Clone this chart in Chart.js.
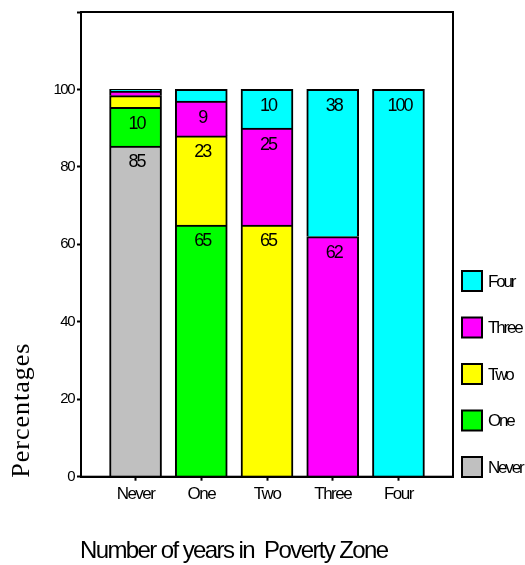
<!DOCTYPE html>
<html>
<head>
<meta charset="utf-8">
<script src="https://cdn.jsdelivr.net/npm/chart.js@4/dist/chart.umd.min.js"></script>
<style>
  html, body { margin: 0; padding: 0; background: #fff; }
</style>
</head>
<body>
<canvas id="chart" width="525" height="565"></canvas>
<script>
// --- data ---
const categories = ['Never', 'One', 'Two', 'Three', 'Four'];
const seriesNames = ['Never', 'One', 'Two', 'Three', 'Four'];
const seriesColors = ['#C0C0C0', '#00FF00', '#FFFF00', '#FF00FF', '#00FFFF'];
// percent of each bar, one array per colour (stacked bottom to top)
const pctNever = [85.4, 0, 0, 0, 0];
const pctOne = [10, 65, 0, 0, 0];
const pctTwo = [3, 23, 65, 0, 0];
const pctThree = [1.2, 9, 25, 62, 0];
const pctFour = [0.4, 3, 10, 38, 100];
const yTicks = [0, 20, 40, 60, 80, 100, 120];
const xTitle = 'Number of years in  Poverty Zone';
const yTitle = 'Percentages';

const SANS = "'Liberation Sans', Arial, sans-serif";
const SERIF = "'Liberation Serif', 'Times New Roman', serif";

const seriesValues = [pctNever, pctOne, pctTwo, pctThree, pctFour];

const datasets = seriesNames.map((name, s) => ({
    label: name,
    data: categories.map((c, i) => ({ x: i + 1, y: seriesValues[s][i] || null })),
    backgroundColor: seriesColors[s],
    borderColor: '#000',
    borderWidth: 2,
    borderSkipped: 'bottom',
    barThickness: 52
}));

// condensed look of the original text
const spacingPlugin = {
    id: 'spacing',
    beforeDraw(chart) {
        chart.ctx.letterSpacing = '-1.5px';
    }
};

// value labels inside segments
const valueLabels = {
    id: 'valueLabels',
    afterDatasetsDraw(chart) {
        const ctx = chart.ctx;
        ctx.save();
        ctx.letterSpacing = '-2px';
        ctx.font = '18px ' + SANS;
        ctx.fillStyle = '#000';
        ctx.textAlign = 'center';
        ctx.textBaseline = 'middle';
        chart.data.datasets.forEach((ds, i) => {
            const meta = chart.getDatasetMeta(i);
            meta.data.forEach((bar, j) => {
                const v = ds.data[j].y;
                if (v == null || v < 5) return;
                ctx.fillText(String(Math.round(v)), bar.x + 1, bar.y + 16.5);
            });
        });
        ctx.restore();
    }
};

// box round the plot, legend and axis titles
const frameAndTitles = {
    id: 'frameAndTitles',
    afterDraw(chart) {
        const ctx = chart.ctx;
        const a = chart.chartArea;
        ctx.save();
        ctx.strokeStyle = '#000';
        ctx.lineWidth = 2;
        ctx.strokeRect(a.left, a.top, a.right - a.left, a.bottom - a.top);

        // legend, Four on top
        ctx.font = '17px ' + SANS;
        ctx.letterSpacing = '-2.2px';
        ctx.textAlign = 'left';
        ctx.textBaseline = 'middle';
        const bx = a.right + 8;
        for (let i = 0; i < seriesNames.length; i++) {
            const by = a.bottom + 1.3 - 22 - i * 46.5;
            ctx.fillStyle = seriesColors[i];
            ctx.fillRect(bx + 1, by + 1, 20, 20);
            ctx.strokeRect(bx + 1, by + 1, 20, 20);
            ctx.fillStyle = '#000';
            ctx.fillText(seriesNames[i], bx + 27, by + 12);
        }

        // x title
        ctx.font = '24px ' + SANS;
        ctx.letterSpacing = '-1.6px';
        ctx.textBaseline = 'alphabetic';
        ctx.fillText(xTitle, a.left - 1, 558);

        // y title
        ctx.font = '26px ' + SERIF;
        ctx.letterSpacing = '1px';
        ctx.translate(a.left - 52, a.bottom + 1);
        ctx.rotate(-Math.PI / 2);
        ctx.fillText(yTitle, 0, 0);
        ctx.restore();
    }
};

new Chart(document.getElementById('chart'), {
    type: 'bar',
    data: { datasets },
    plugins: [spacingPlugin, valueLabels, frameAndTitles],
    options: {
        responsive: false,
        animation: false,
        layout: { padding: { left: 0, top: 11, right: 72, bottom: 0 } },
        plugins: { legend: { display: false }, tooltip: { enabled: false } },
        scales: {
            x: {
                type: 'linear',
                stacked: true,
                min: 0.17,
                max: 5.83,
                offset: false,
                afterBuildTicks: (axis) => {
                    axis.ticks = categories.map((c, i) => ({ value: i + 1 }));
                },
                afterFit: (axis) => { axis.height = 88.3; },
                grid: { offset: false, drawOnChartArea: false, drawTicks: true, tickLength: 4, tickWidth: 2, tickColor: '#000' },
                border: { display: true, color: '#000', width: 2 },
                ticks: {
                    autoSkip: false,
                    maxRotation: 0,
                    padding: 3,
                    color: '#000',
                    font: { size: 17, family: SANS },
                    callback: (v) => categories[v - 1] || ''
                }
            },
            y: {
                stacked: true,
                min: 0,
                max: 120,
                afterBuildTicks: (axis) => {
                    axis.ticks = yTicks.map(v => ({ value: v }));
                },
                afterFit: (axis) => { axis.width = 81; },
                grid: { drawOnChartArea: false, drawTicks: true, tickLength: 4, tickWidth: 2, tickColor: '#000' },
                border: { display: true, color: '#000', width: 2 },
                ticks: {
                    padding: 3,
                    color: '#000',
                    font: { size: 15, family: SANS },
                    callback: (v) => v === 120 ? '' : v
                }
            }
        }
    }
});
</script>
</body>
</html>
